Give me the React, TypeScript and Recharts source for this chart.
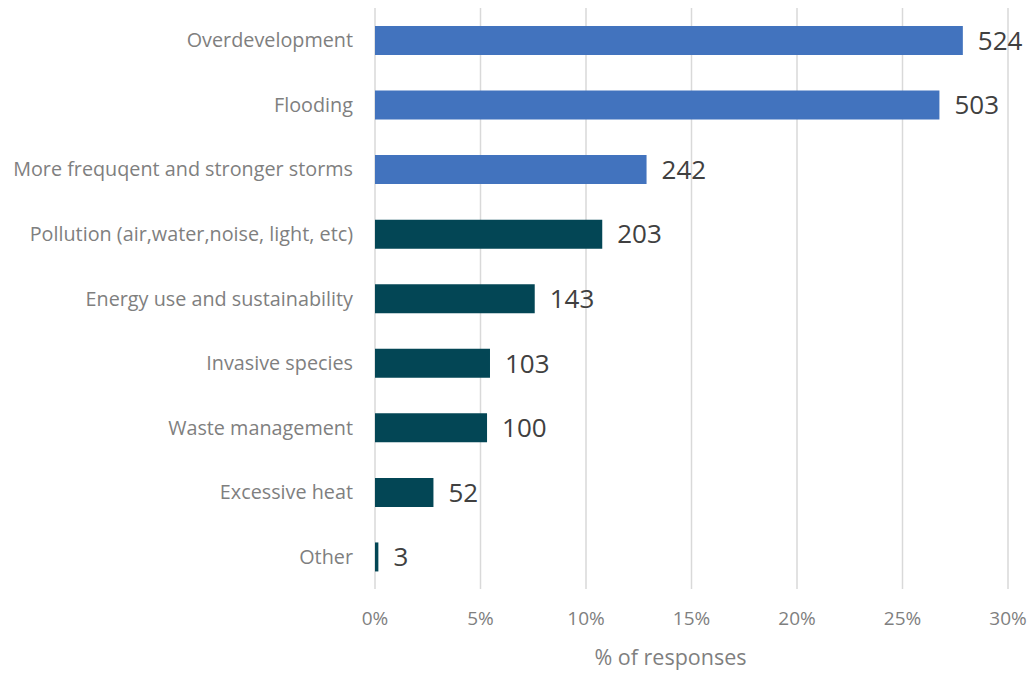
import React from 'react';
import { BarChart, Bar, XAxis, YAxis, CartesianGrid, LabelList, Cell, Label } from 'recharts';

const categories = [
  'Overdevelopment',
  'Flooding',
  'More frequqent and stronger storms',
  'Pollution (air,water,noise, light, etc)',
  'Energy use and sustainability',
  'Invasive species',
  'Waste management',
  'Excessive heat',
  'Other',
];
const counts = [524, 503, 242, 203, 143, 103, 100, 52, 3];
const percents = [27.86, 26.75, 12.87, 10.77, 7.57, 5.45, 5.31, 2.77, 0.16];
const xTicks = [0, 5, 10, 15, 20, 25, 30];

const data = categories.map((name, i) => ({ name, count: counts[i], pct: percents[i] }));

const BLUE = '#4273BE';
const TEAL = '#034655';
const FONT = '"Open Sans", sans-serif';

export default function App() {
  return (
    <div style={{ position: 'absolute', left: 0, top: 0, background: '#fff' }}>
      <BarChart
        width={1029}
        height={673}
        data={data}
        layout="vertical"
        margin={{ top: 8, right: 21, bottom: 0, left: 0 }}
        barCategoryGap={0}
      >
        <CartesianGrid vertical={true} horizontal={false} stroke="#d9d9d9" strokeWidth={1.5} />
        <XAxis
          type="number"
          domain={[0, 30]}
          ticks={xTicks}
          tickFormatter={(v) => `${v}%`}
          axisLine={false}
          tickLine={false}
          tickSize={0}
          tickMargin={23}
          height={84}
          interval={0}
          tick={{ fill: '#7f7f7f', fontSize: 19, fontFamily: FONT }}
        >
          <Label
            value="% of responses"
            position="insideBottom"
            offset={8}
            dx={-21}
            style={{ fill: '#7f7f7f', fontSize: 21.5, fontFamily: FONT }}
          />
        </XAxis>
        <YAxis
          type="category"
          dataKey="name"
          width={375}
          axisLine={false}
          tickLine={false}
          tickSize={0}
          tickMargin={22}
          interval={0}
          tick={{ fill: '#7f7f7f', fontSize: 19.8, fontFamily: FONT }}
        />
        <Bar dataKey="pct" barSize={29} isAnimationActive={false}>
          {data.map((d, i) => (
            <Cell key={d.name} fill={i < 3 ? BLUE : TEAL} />
          ))}
          <LabelList
            dataKey="count"
            position="right"
            offset={15}
            style={{ fill: '#404040', fontSize: 26, fontFamily: FONT }}
          />
        </Bar>
      </BarChart>
    </div>
  );
}
